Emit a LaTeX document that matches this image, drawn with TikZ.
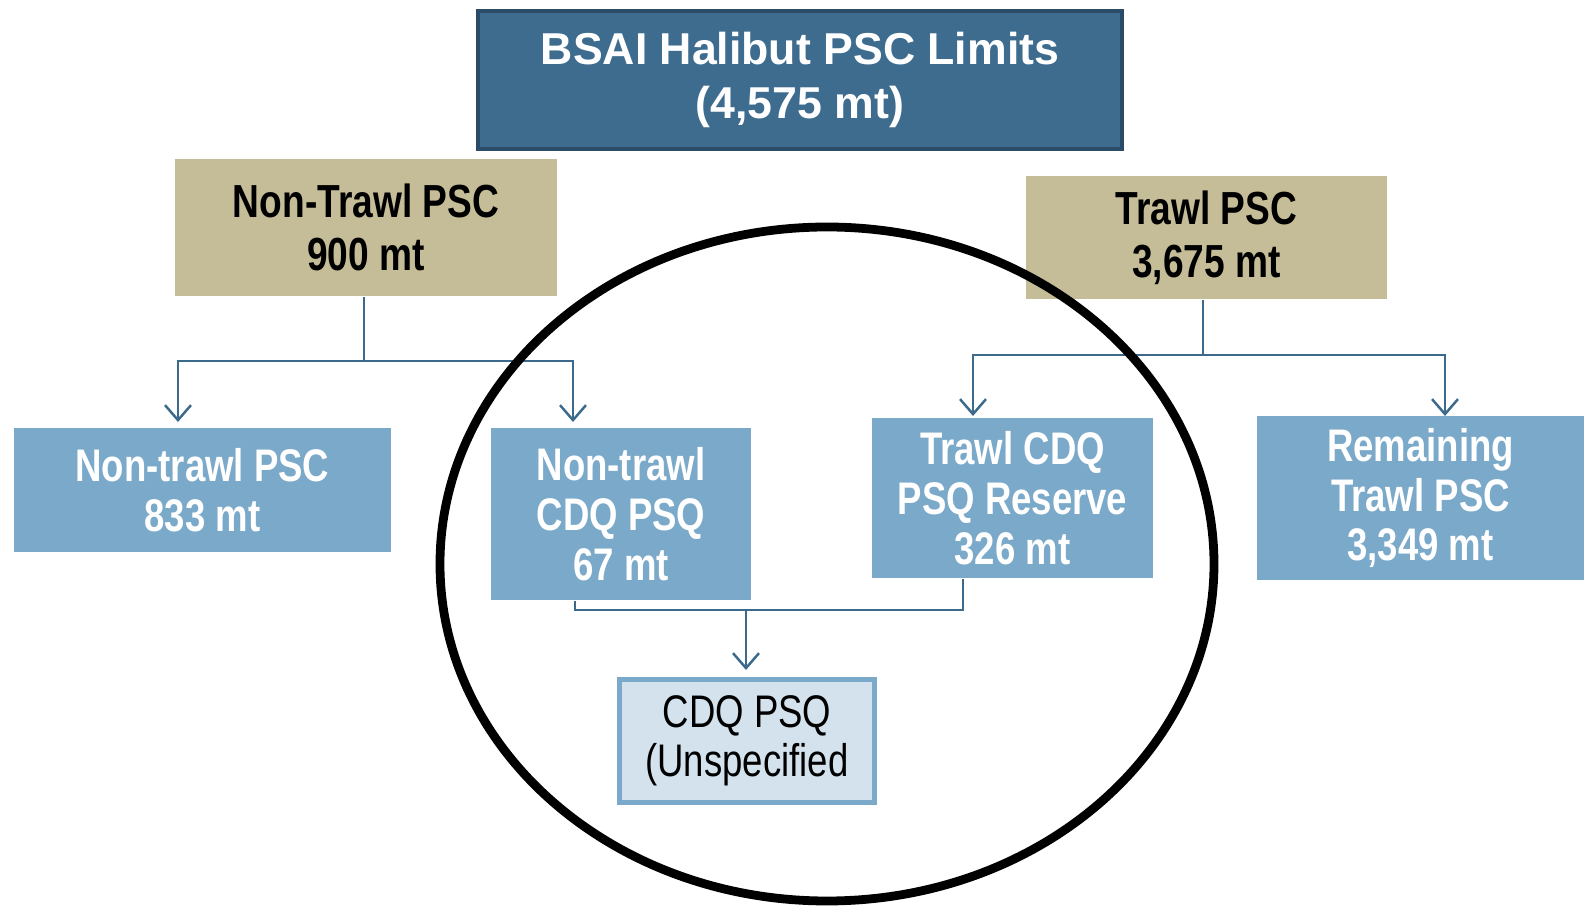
\documentclass[tikz,border=0pt]{standalone}
\usepackage{fontspec}
\setmainfont{Liberation Sans}
\newfontfamily\narrowfont[FakeStretch=0.8]{Liberation Sans}
\usetikzlibrary{arrows.meta}

\definecolor{topblue}{HTML}{3E6C8F}
\definecolor{topedge}{HTML}{2B4C69}
\definecolor{tan}{HTML}{C5BD98}
\definecolor{midblue}{HTML}{7BA9C9}
\definecolor{paleblue}{HTML}{D3E2EC}
\definecolor{linkblue}{HTML}{3B6A8D}

\tikzset{
  topbox/.style={draw=topedge, line width=1.1pt, fill=topblue, text=white,
    font=\fontsize{12.7}{15.3}\selectfont\bfseries, align=center},
  tanbox/.style={fill=tan, text=black,
    font=\narrowfont\fontsize{13.2}{15}\selectfont\bfseries, align=center},
  bluebox/.style={fill=midblue, text=white,
    font=\narrowfont\fontsize{13}{14.2}\selectfont\bfseries, align=center},
  palebox/.style={draw=midblue, line width=1.4pt, fill=paleblue, text=black,
    font=\narrowfont\fontsize{13}{14}\selectfont, align=center},
  conn/.style={draw=linkblue, line width=0.7pt},
  connarrow/.style={conn, -{Straight Barb[length=1.5mm,width=2.6mm]}},
}

\begin{document}
\begin{tikzpicture}
\useasboundingbox (0,0) rectangle (15.84,-9.10);

% boxes
\node[topbox, minimum width=6.44cm, minimum height=1.38cm] (limits) at (8.00,-0.80) {BSAI Halibut PSC Limits\\(4,575 mt)};
\node[tanbox, minimum width=3.82cm, minimum height=1.37cm] (ntpsc) at (3.66,-2.275) {Non-Trawl PSC\\900 mt};
\node[tanbox, minimum width=3.61cm, minimum height=1.23cm] (tpsc) at (12.065,-2.375) {Trawl PSC\\3,675 mt};
\node[bluebox, minimum width=3.77cm, minimum height=1.24cm] (nt833) at (2.025,-4.90) {Non-trawl PSC\\833 mt};
\node[bluebox, minimum width=2.60cm, minimum height=1.72cm] (ntcdq) at (6.21,-5.14) {Non-trawl\\CDQ PSQ\\67 mt};
\node[bluebox, minimum width=2.81cm, minimum height=1.60cm] (tcdq) at (10.125,-4.98) {Trawl CDQ\\PSQ Reserve\\326 mt};
\node[bluebox, minimum width=3.27cm, minimum height=1.60cm] (rem) at (14.205,-4.98) {Remaining\\Trawl PSC\\3,349 mt};
\node[palebox, minimum width=2.55cm, minimum height=1.23cm] (cdq) at (7.47,-7.41) {CDQ PSQ\\(Unspecified};

% joints and arrow ends
\coordinate (J1) at (3.64,-3.61);
\coordinate (T1) at (1.78,-4.22);
\coordinate (T2) at (5.73,-4.22);
\coordinate (J2) at (12.03,-3.55);
\coordinate (T3) at (9.73,-4.16);
\coordinate (T4) at (14.45,-4.16);
\coordinate (B1) at (5.75,-6.10);
\coordinate (B2) at (9.63,-6.10);
\coordinate (B3) at (7.46,-6.10);
\coordinate (T5) at (7.46,-6.70);

\draw[conn] (ntpsc.south -| J1) -- (J1);
\draw[connarrow] (J1) -| (T1);
\draw[connarrow] (J1) -| (T2);
\draw[conn] (tpsc.south -| J2) -- (J2);
\draw[connarrow] (J2) -| (T3);
\draw[connarrow] (J2) -| (T4);
\draw[conn] (ntcdq.south -| B1) -- (B1) -- (B2) -- (tcdq.south -| B2);
\draw[connarrow] (B3) -- (T5);

% ring round the CDQ part
\draw[line width=2.5pt] (8.27,-5.64) ellipse [x radius=3.87cm, y radius=3.37cm];
\end{tikzpicture}
\end{document}
